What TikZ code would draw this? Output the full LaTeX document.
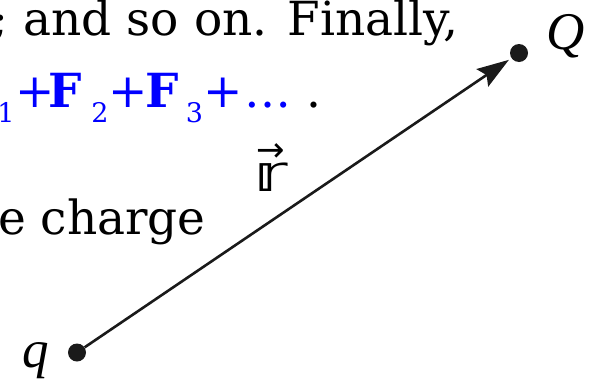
\documentclass[tikz,border=0pt]{standalone}
\usepackage{fontspec}
\setmainfont{DejaVu Serif}
\newfontfamily\symfont{DejaVu Sans}
\newfontfamily\lblfont{Liberation Serif}
\usetikzlibrary{arrows.meta}
\definecolor{ink}{HTML}{1A1A1A}
\begin{document}
\begin{tikzpicture}[x=1pt,y=-1pt,
  txt/.style={inner sep=0pt, font=\fontsize{47}{54}\selectfont},
  bl/.style={inner sep=0pt, anchor=base, text=blue, font=\fontsize{47}{54}\selectfont},
  blsub/.style={inner sep=0pt, anchor=base, text=blue, font=\fontsize{27}{30}\selectfont},
  dotnode/.style={circle, fill=ink, inner sep=0pt, minimum size=18pt},
  charge/.style={inner sep=0pt, font=\lblfont\itshape\fontsize{53}{60}\selectfont},
  vec/.style={line width=2.6pt, draw=ink, -{Stealth[length=32pt,width=21pt,inset=5pt]}, shorten >=3pt}
]
\useasboundingbox (0,0) rectangle (589,383);
% text lines
\node[txt, anchor=base east] (l1) at (459,35) {; and so on. Finally,};
\node[blsub] (s1) at (6,122) {1};
\node[bl] (p1) at (35,107) {+};
\node[bl] (f2) at (65,107) {\textbf{F}};
\node[blsub] (s2) at (100,122) {2};
\node[bl] (p2) at (128,107) {+};
\node[bl] (f3) at (162.5,107) {\textbf{F}};
\node[blsub] (s3) at (194.5,122) {3};
\node[bl] (p3) at (223,107) {+};
\node[bl] (dd) at (267.5,107) {…};
\node[txt, anchor=base] (pe) at (313.5,107) {.};
\node[txt, anchor=base east] (l3) at (206,234) {e charge};
% diagram
\node[dotnode] (q) at (77,352.5) {};
\node[dotnode] (Q) at (519,53) {};
\node[charge, anchor=base] (ql) at (36,367) {q};
\node[charge, anchor=base] (Ql) at (566,49) {Q};
\draw[vec] (q) -- (Q);
\node[inner sep=0pt, anchor=base, font=\symfont\fontsize{51}{54}\selectfont] (r) at (271,191)
  {\ooalign{\hidewidth\raisebox{30pt}{\fontsize{34}{34}\selectfont →}\hidewidth\cr \scalebox{1.4}[1]{𝕣}\cr}};
\end{tikzpicture}
\end{document}
